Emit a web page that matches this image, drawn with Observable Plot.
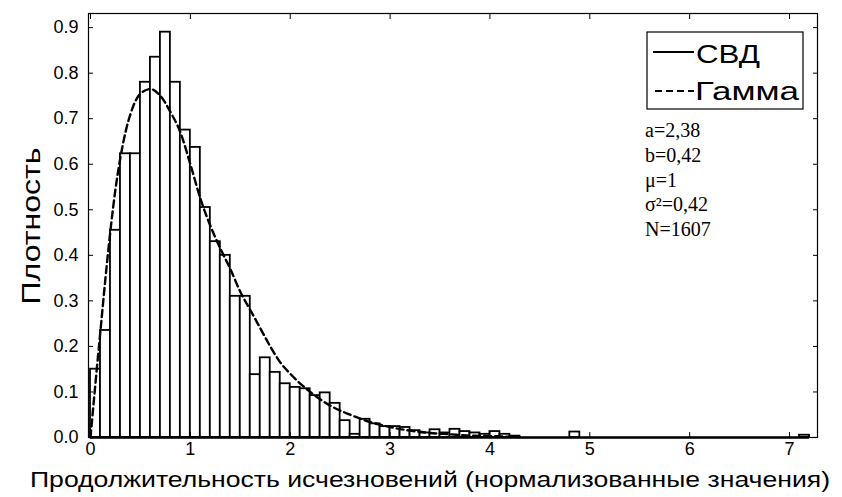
<!DOCTYPE html>
<html><head><meta charset="utf-8">
<script src="https://cdn.jsdelivr.net/npm/d3@7"></script>
<script src="https://cdn.jsdelivr.net/npm/@observablehq/plot@0.6"></script>
<style>
body{margin:0;background:#fff;}
#chart{width:842px;height:497px;}
</style></head><body><div id="chart"></div>
<script>
// Histogram: bins of width 0.1 starting at 0
const binWidth = 0.1;
const density = [0.15, 0.235, 0.455, 0.623, 0.623, 0.78, 0.835, 0.89, 0.78, 0.675,
  0.637, 0.505, 0.43, 0.40, 0.31, 0.31, 0.138, 0.175, 0.143, 0.118,
  0.11, 0.107, 0.092, 0.098, 0.075, 0.037, 0.007, 0.04, 0.03, 0.024,
  0.024, 0.022, 0.015, 0.01, 0.017, 0.01, 0.018, 0.013, 0.01, 0.007,
  0.013, 0.007, 0.003];
const tailStart = [4.8, 7.1];
const tailDensity = [0.012, 0.005];
const histEnd = 7.2;

// Gamma fit curve
const gammaX = [0, 0.05, 0.1, 0.15, 0.2, 0.25, 0.3, 0.35, 0.4, 0.5, 0.6, 0.7, 0.8, 0.9, 1.0,
  1.1, 1.2, 1.3, 1.4, 1.5, 1.6, 1.7, 1.8, 1.9, 2.0, 2.2, 2.4, 2.6, 2.8, 3.0, 3.2, 3.4, 3.6, 3.8, 4.0, 4.3];
const gammaY = [0, 0.12, 0.235, 0.35, 0.455, 0.545, 0.615, 0.67, 0.71, 0.755, 0.765, 0.75, 0.715, 0.67, 0.60,
  0.525, 0.465, 0.415, 0.37, 0.32, 0.28, 0.24, 0.2, 0.165, 0.14, 0.1, 0.07, 0.05, 0.034, 0.023, 0.015, 0.01, 0.007, 0.004, 0.003, 0.001];

const xTicks = [0, 1, 2, 3, 4, 5, 6, 7];
const yTicks = [0, 0.1, 0.2, 0.3, 0.4, 0.5, 0.6, 0.7, 0.8, 0.9];
const xTitle = "Продолжительность исчезновений (нормализованные значения)";
const yTitle = "Плотность";
const legendLabels = ["СВД", "Гамма"];
const paramLines = ["a=2,38", "b=0,42", "μ=1", "σ²=0,42", "N=1607"];

const bins = density.map((d, i) => ({x1: i * binWidth, x2: (i + 1) * binWidth, y: d}))
  .concat(tailStart.map((s, i) => ({x1: s, x2: s + binWidth, y: tailDensity[i]})));
const gamma = gammaX.map((x, i) => ({x, y: gammaY[i]}));

const W = 842, H = 497, mL = 88, mR = 25, mT = 13, mB = 60;

const plot = Plot.plot({
  width: W, height: H,
  marginLeft: mL, marginRight: mR, marginTop: mT, marginBottom: mB,
  x: {domain: [-0.02, 7.28]},
  y: {domain: [0, 0.931]},
  style: {fontFamily: "'Liberation Sans', Arial, sans-serif", fontSize: "18px", color: "black", background: "white", overflow: "visible"},
  marks: [
    Plot.rectY(bins, {x1: "x1", x2: "x2", y: "y", fill: "white", stroke: "black", strokeWidth: 1.8}),
    Plot.ruleY([0], {x1: 0, x2: histEnd, stroke: "black", strokeWidth: 2.5}),
    Plot.line(gamma, {x: "x", y: "y", curve: "monotone-x", stroke: "black", strokeWidth: 2.4, strokeDasharray: "7,4"}),
    Plot.frame({stroke: "black", strokeWidth: 1.2}),
    Plot.axisX({ticks: xTicks, anchor: "bottom", tickSize: 0, tickPadding: 5, label: null}),
    Plot.axisX({ticks: xTicks, anchor: "bottom", tickSize: -5, text: null, label: null}),
    Plot.axisX({ticks: xTicks, anchor: "top", tickSize: -5, text: null, label: null}),
    Plot.axisY({ticks: yTicks, anchor: "left", tickSize: 0, tickPadding: 10, label: null}),
    Plot.axisY({ticks: yTicks, anchor: "left", tickSize: -5, text: null, label: null}),
    Plot.axisY({ticks: yTicks, anchor: "right", tickSize: -5, text: null, label: null})
  ]
});
document.getElementById("chart").appendChild(plot);

const svg = d3.select(plot);
const sans = "'Liberation Sans', Arial, sans-serif";
// Axis titles
svg.append("text")
  .attr("x", 430).attr("y", 487)
  .attr("text-anchor", "middle")
  .attr("font-family", sans)
  .attr("font-size", 22).attr("fill", "black")
  .attr("textLength", 800).attr("lengthAdjust", "spacingAndGlyphs")
  .text(xTitle);
svg.append("text")
  .attr("transform", "translate(40,226) rotate(-90)")
  .attr("text-anchor", "middle")
  .attr("font-family", sans)
  .attr("font-size", 26).attr("fill", "black")
  .attr("textLength", 157).attr("lengthAdjust", "spacingAndGlyphs")
  .text(yTitle);

// Legend
const lg = svg.append("g").attr("text-anchor", "start");
lg.append("rect").attr("x", 647).attr("y", 32).attr("width", 156).attr("height", 77)
  .attr("fill", "white").attr("stroke", "black").attr("stroke-width", 1.2);
lg.append("line").attr("x1", 653).attr("x2", 694).attr("y1", 52).attr("y2", 52)
  .attr("stroke", "black").attr("stroke-width", 2);
lg.append("line").attr("x1", 655).attr("x2", 694).attr("y1", 91).attr("y2", 91)
  .attr("stroke", "black").attr("stroke-width", 2).attr("stroke-dasharray", "7,4");
lg.append("text").attr("x", 696).attr("y", 63)
  .attr("font-family", sans).attr("font-size", 25).attr("text-anchor", "start")
  .attr("textLength", 64).attr("lengthAdjust", "spacingAndGlyphs").text(legendLabels[0]);
lg.append("text").attr("x", 695).attr("y", 100)
  .attr("font-family", sans).attr("font-size", 25).attr("text-anchor", "start")
  .attr("textLength", 104).attr("lengthAdjust", "spacingAndGlyphs").text(legendLabels[1]);

// Parameters
const pg = svg.append("g").attr("font-family", "'Liberation Serif', 'Times New Roman', serif")
  .attr("font-size", 20).attr("text-anchor", "start");
paramLines.forEach((t, i) => {
  pg.append("text").attr("x", 645).attr("y", 137 + i * 24.8).attr("text-anchor", "start").text(t);
});
</script></body></html>
